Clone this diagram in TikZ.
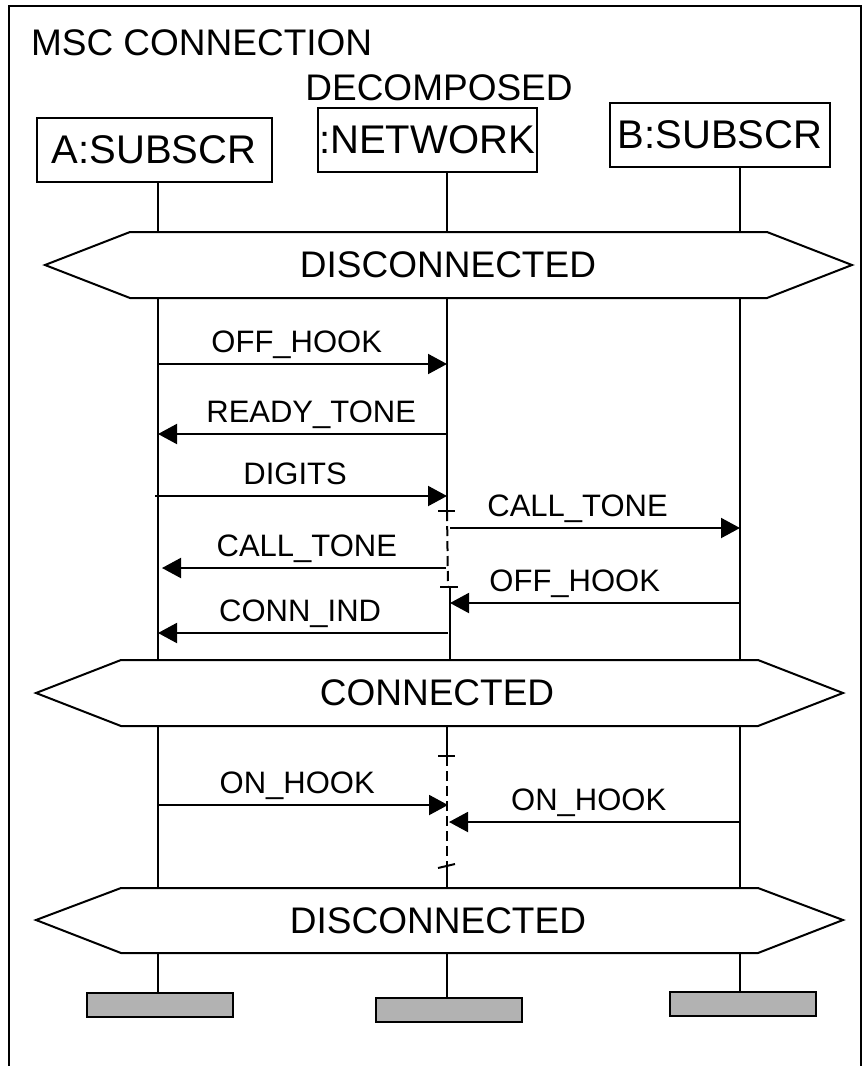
\documentclass[tikz,border=0pt]{standalone}
\usepackage{fontspec}
\setmainfont{Liberation Sans}
\usepackage{tikz}
\usetikzlibrary{arrows.meta}
\tikzstyle{titletext}=[inner sep=0pt, font=\fontsize{37}{40}\selectfont]
\tikzstyle{instance}=[draw, inner sep=0pt, minimum height=64pt, font=\fontsize{40}{44}\selectfont]
\tikzstyle{state}=[inner sep=0pt, minimum height=66pt, font=\fontsize{37}{40}\selectfont]
\tikzstyle{hexagon}=[draw=black, fill=white, line join=miter]
\tikzstyle{stopbar}=[draw, fill=black!30, minimum width=146pt, minimum height=24pt, inner sep=0pt]
\tikzstyle{msg}=[draw=black, -{Triangle[length=19pt, width=20pt]}]
\tikzstyle{lbl}=[inner sep=0pt, anchor=base, yshift=12pt, font=\fontsize{31}{34}\selectfont]
\tikzstyle{coreg}=[dash pattern=on 10pt off 5pt]

\begin{document}
\begin{tikzpicture}[x=1pt, y=-1pt, line width=2pt]
		   \useasboundingbox (0,0) rectangle (863,1066);
		   % frame and heading
		   \draw (9,1066) -- (9,6) -- (861,6) -- (861,1066);
		   \node[titletext, anchor=base west] (ttl) at (30,55) {MSC CONNECTION};
		   \node[titletext, anchor=base] (dec) at (439,100) {DECOMPOSED};
		   \begin{scope}
			   \node[instance, minimum width=235pt] (A) at (154,150) {A:SUBSCR};
			   \node[instance, minimum width=219pt] (N) at (427,140) {:NETWORK};
			   \node[instance, minimum width=220pt] (B) at (720,135) {B:SUBSCR};
			   \coordinate (xA) at (158,0);
			   \coordinate (xN) at (447,0);
			   \coordinate (xM) at (450,0);
			   \coordinate (xB) at (740,0);
		   \end{scope}
		   \begin{scope}
			   \draw[hexagon] (45,265) -- (130,232) -- (767,232) -- (852,265) -- (767,298) -- (130,298) -- cycle;
			   \node[state] (dis1) at (448,265) {DISCONNECTED};
			   \draw[hexagon] (36,693) -- (121,660) -- (758,660) -- (843,693) -- (758,726) -- (121,726) -- cycle;
			   \node[state] (con) at (437,693) {CONNECTED};
			   \draw[hexagon] (36,920) -- (121,888) -- (758,888) -- (843,920) -- (758,953) -- (121,953) -- cycle;
			   \node[state, minimum height=65pt] (dis2) at (438,920.5) {DISCONNECTED};
		   \end{scope}
		   \begin{scope}
			   \node[stopbar] (endA) at (160,1005) {};
			   \node[stopbar] (endN) at (448.5,1009.5) {};
			   \node[stopbar] (endB) at (742.5,1004) {};
		   \end{scope}
		   % lifelines
		   \begin{scope}
			   \draw (A.south -| xA) -- (dis1.north -| xA);
			   \draw (N.south -| xN) -- (dis1.north -| xN);
			   \draw (B.south -| xB) -- (dis1.north -| xB);
			   \draw (dis1.south -| xA) -- (con.north -| xA);
			   \draw (dis1.south -| xB) -- (con.north -| xB);
			   \draw (con.south -| xA) -- (dis2.north -| xA);
			   \draw (con.south -| xB) -- (dis2.north -| xB);
			   \draw (dis2.south -| xA) -- (endA.north -| xA);
			   \draw (dis2.south -| xN) -- (endN.north -| xN);
			   \draw (dis2.south -| xB) -- (endB.north -| xB);
		   \end{scope}
		   % coregions on the network
		   \begin{scope}
			   \coordinate (cr1) at (447,511);
			   \coordinate (cr2) at (448,587);
			   \coordinate (cr3) at (447,756);
			   \coordinate (cr4) at (447,866);
			   \draw (dis1.south -| xN) -- (cr1);
			   \draw[coreg] (cr1) -- (cr2);
			   \draw (cr2 -| xM) -- (con.north -| xM);
			   \draw ([xshift=-9pt]cr1) -- ([xshift=8pt]cr1);
			   \draw ([xshift=-8pt]cr2) -- ([xshift=10pt]cr2);
			   \draw (con.south -| xN) -- (cr3);
			   \draw[coreg] (cr3) -- (cr4);
			   \draw (cr4) -- (dis2.north -| xN);
			   \draw ([xshift=-9pt]cr3) -- ([xshift=8pt]cr3);
			   \draw ([xshift=-9pt, yshift=-2pt]cr4) -- ([xshift=8pt, yshift=2pt]cr4);
		   \end{scope}
		   % messages
		   \begin{scope}
			   \coordinate (offA) at (158,364);
			   \coordinate (offN) at (447,364);
			   \coordinate (rdyN) at (447,434);
			   \coordinate (rdyA) at (158,434);
			   \coordinate (digA) at (155,496);
			   \coordinate (digN) at (447,496);
			   \coordinate (ctbN) at (450,528);
			   \coordinate (ctbB) at (740,528);
			   \coordinate (ctaN) at (446,568);
			   \coordinate (ctaA) at (162,568);
			   \coordinate (ofbB) at (740,603);
			   \coordinate (ofbN) at (450,603);
			   \coordinate (cinN) at (448,633);
			   \coordinate (cinA) at (158,633);
			   \coordinate (onaA) at (158,805);
			   \coordinate (onaN) at (448,805);
			   \coordinate (onbB) at (740,822);
			   \coordinate (onbN) at (449,822);
			   \draw[msg] (offA) -- node[lbl, pos=0.48] {OFF\_HOOK} (offN);
			   \draw[msg] (rdyN) -- node[lbl, pos=0.47] {READY\_TONE} (rdyA);
			   \draw[msg] (digA) -- node[lbl, pos=0.48] {DIGITS} (digN);
			   \draw[msg] (ctbN) -- node[lbl, pos=0.44] {CALL\_TONE} (ctbB);
			   \draw[msg] (ctaN) -- node[lbl, pos=0.49] {CALL\_TONE} (ctaA);
			   \draw[msg] (ofbB) -- node[lbl, pos=0.57] {OFF\_HOOK} (ofbN);
			   \draw[msg] (cinN) -- node[lbl, pos=0.51] {CONN\_IND} (cinA);
			   \draw[msg] (onaA) -- node[lbl, pos=0.48] {ON\_HOOK} (onaN);
			   \draw[msg] (onbB) -- node[lbl, pos=0.52] {ON\_HOOK} (onbN);
		   \end{scope}
	   \end{tikzpicture}
\end{document}
